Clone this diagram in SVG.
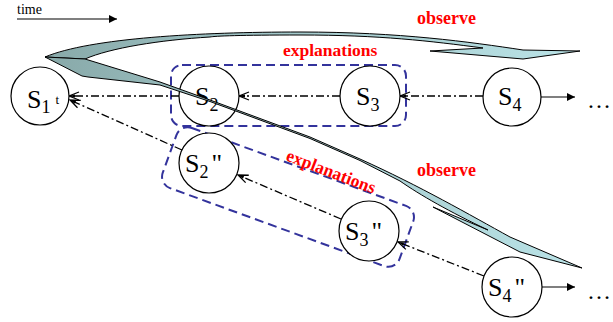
<svg xmlns="http://www.w3.org/2000/svg" width="613" height="322" viewBox="0 0 613 322">
<style>
.node circle{fill:#fff;stroke:#000;stroke-width:1.2}
.lbl{font-family:"Liberation Serif","Times New Roman","DejaVu Serif",serif;font-size:26px;fill:#000}
.sub{font-size:18px}
.dd{fill:none;stroke:#000;stroke-width:1.3;stroke-dasharray:8 3 2 3}
.solid{fill:none;stroke:#000;stroke-width:1.2}
.grp{fill:none;stroke:#33339c;stroke-width:2;stroke-dasharray:9 5}
.red{font-family:"Liberation Serif","Times New Roman","DejaVu Serif",serif;font-weight:bold;fill:#ff0000}
.sw{fill:url(#g);stroke:#000;stroke-width:1;stroke-linejoin:round}
.dots{font-family:"Liberation Serif","DejaVu Serif",serif;font-size:24px;fill:#000}
</style>
<defs>
<linearGradient id="g" gradientUnits="userSpaceOnUse" x1="45" y1="0" x2="580" y2="0">
<stop offset="0" stop-color="#88a9a9"/>
<stop offset="0.45" stop-color="#a3c8ca"/>
<stop offset="1" stop-color="#bae3e7"/>
</linearGradient>
<marker id="open" viewBox="0 0 12 10" refX="11" refY="5" markerWidth="12" markerHeight="10" markerUnits="userSpaceOnUse" orient="auto">
<path d="M1,1 L11,5 L1,9" fill="none" stroke="#000" stroke-width="1.3"/>
<path d="M5,3.5 L11,5 L5,6.5 Z" fill="#000"/>
</marker>
<marker id="fill" viewBox="0 0 10 10" refX="10" refY="5" markerWidth="9" markerHeight="8" markerUnits="userSpaceOnUse" orient="auto">
<path d="M0,0 L10,5 L0,10 Z" fill="#000"/>
</marker>
</defs>
<rect width="613" height="322" fill="#fff"/>

<g id="time">
<text x="17" y="14" font-family="Liberation Serif, DejaVu Serif, serif" font-size="14">time</text>
<line x1="17" y1="19" x2="117" y2="19" class="solid" marker-end="url(#fill)"/>
</g>

<g id="groups">
<rect x="171" y="65" width="235" height="61" rx="11" class="grp"/>
<rect x="-126" y="-32" width="252" height="64" rx="12" class="grp" transform="translate(288 197) rotate(20)"/>
</g>

<g id="connectors">
<line x1="483" y1="96" x2="400" y2="96" class="dd" marker-end="url(#open)"/>
<line x1="340" y1="96" x2="239" y2="96" class="dd" marker-end="url(#open)"/>
<line x1="179" y1="96" x2="69" y2="96" class="dd" marker-end="url(#open)"/>
<line x1="484" y1="276" x2="398" y2="242" class="dd" marker-end="url(#open)"/>
<line x1="341" y1="219" x2="238" y2="175" class="dd" marker-end="url(#open)"/>
<line x1="182" y1="150" x2="70" y2="100" class="dd" marker-end="url(#open)"/>
<line x1="541" y1="97" x2="575" y2="97" class="solid" marker-end="url(#fill)"/>
<line x1="542" y1="287" x2="575" y2="287" class="solid" marker-end="url(#fill)"/>
</g>

<g id="S1" class="node"><circle cx="40" cy="96" r="29"/><text x="27" y="108" class="lbl">S<tspan class="sub" dy="5">1</tspan><tspan font-size="13" dx="5" dy="-9">t</tspan></text></g>
<g id="S2" class="node"><circle cx="209" cy="96" r="30"/><text x="195" y="105" class="lbl">S<tspan class="sub" dy="6">2</tspan></text></g>
<g id="S3" class="node"><circle cx="370" cy="96" r="30"/><text x="356" y="105" class="lbl">S<tspan class="sub" dy="6">3</tspan></text></g>
<g id="S4" class="node"><circle cx="512" cy="97" r="29"/><text x="498" y="105" class="lbl">S<tspan class="sub" dy="6">4</tspan></text></g>
<g id="S2pp" class="node"><circle cx="209" cy="163" r="30"/><text x="185" y="172" class="lbl">S<tspan class="sub" dy="6">2</tspan><tspan dx="3" dy="-6">"</tspan></text></g>
<g id="S3pp" class="node"><circle cx="369" cy="231" r="30"/><text x="345" y="240" class="lbl">S<tspan class="sub" dy="6">3</tspan><tspan dx="3" dy="-6">"</tspan></text></g>
<g id="S4pp" class="node"><circle cx="512" cy="287" r="30"/><text x="488" y="296" class="lbl">S<tspan class="sub" dy="6">4</tspan><tspan dx="3" dy="-6">"</tspan></text></g>

<text x="587" y="108" class="dots">…</text>
<text x="587" y="299" class="dots">…</text>

<g id="observe-arrows">
<path class="sw" d="M45,57 C90,38 200,32 300,32 C400,32 470,42 523,50 L580,51 L523,59 L430,51 L483,48 C430,41 380,35 300,35 C240,35 215,36 210,37 C160,40 110,48 85,59 Z"/>
<path class="sw" d="M45,57 L85,59 L160,82 L210,100 L310,137 L360,159 C420,186 470,215 510,237 L582,268 L520,252 L433,207 L488,230 C450,212 420,195 400,181 L360,160.5 L310,138.5 L210,101.5 L160,85 L88,77 L82,76 Z"/>
</g>

<g id="labels">
<text x="417" y="24" class="red" font-size="18">observe</text>
<text x="283" y="56" class="red" font-size="17.5">explanations</text>
<text x="417" y="176" class="red" font-size="18">observe</text>
<text x="285" y="160" class="red" font-size="17.5" transform="rotate(21 285 160)">explanations</text>
</g>
</svg>
